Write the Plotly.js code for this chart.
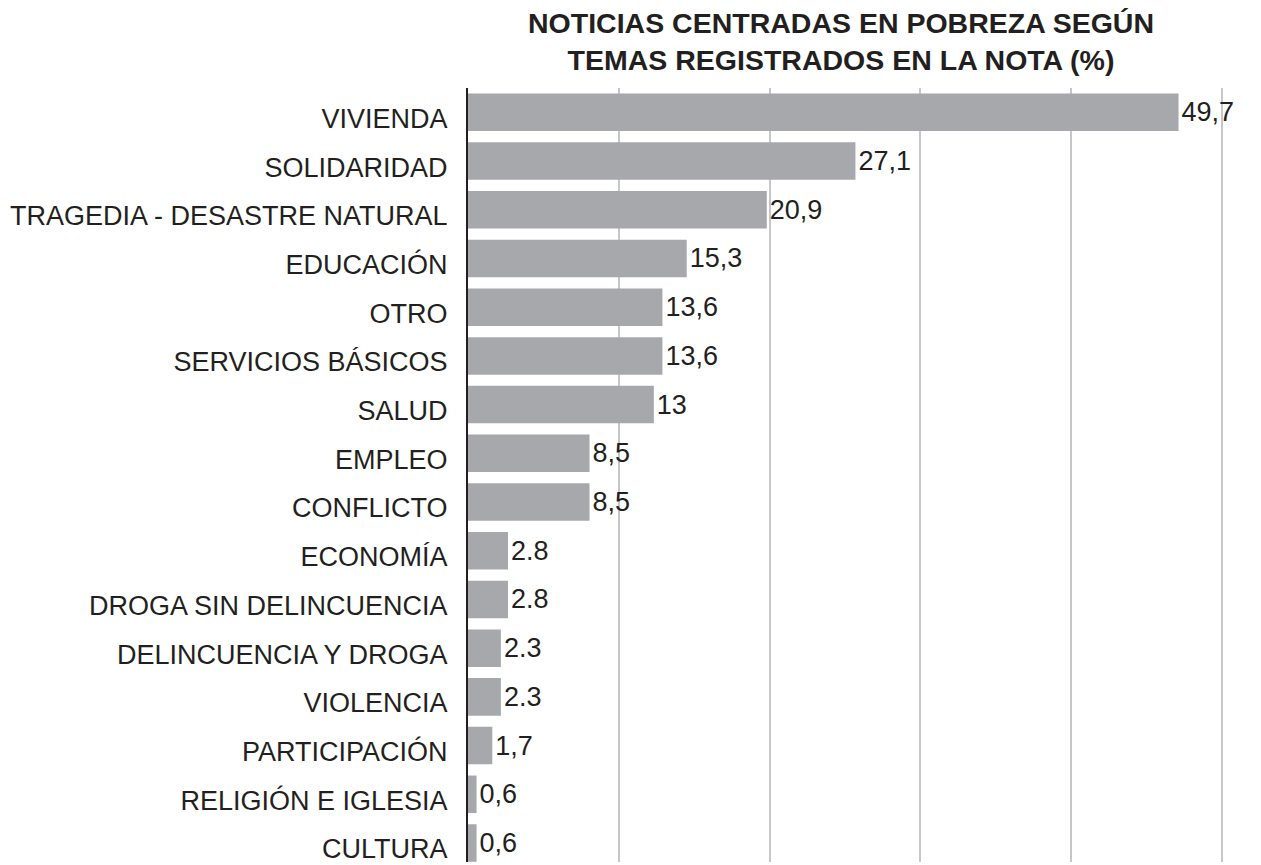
<!DOCTYPE html>
<html>
<head>
<meta charset="utf-8">
<script src="https://cdn.plot.ly/plotly-3.0.1.min.js"></script>
<style>html,body{margin:0;padding:0;background:#fff;}#chart{width:1261px;height:865px;}</style>
</head>
<body>
<div id="chart"></div>
<script>
const categories = ["VIVIENDA","SOLIDARIDAD","TRAGEDIA - DESASTRE NATURAL","EDUCACIÓN","OTRO","SERVICIOS BÁSICOS","SALUD","EMPLEO","CONFLICTO","ECONOMÍA","DROGA SIN DELINCUENCIA","DELINCUENCIA Y DROGA","VIOLENCIA","PARTICIPACIÓN","RELIGIÓN E IGLESIA","CULTURA"];
const values = [49.7,27.1,20.9,15.3,13.6,13.6,13,8.5,8.5,2.8,2.8,2.3,2.3,1.7,0.6,0.6];
const valueLabels = ["49,7","27,1","20,9","15,3","13,6","13,6","13","8,5","8,5","2.8","2.8","2.3","2.3","1,7","0,6","0,6"];
const titleLines = ["NOTICIAS CENTRADAS EN POBREZA SEGÚN","TEMAS REGISTRADOS EN LA NOTA (%)"];

const font = "Liberation Sans, Arial, sans-serif";
const trace = {
  type: "bar",
  orientation: "h",
  x: values,
  y: categories,
  text: valueLabels,
  texttemplate: "%{text}",
  textposition: "outside",
  cliponaxis: false,
  textfont: {family: font, size: 27, color: "#231f20"},
  marker: {color: "#a7a8ac"},
  hoverinfo: "skip"
};
const layout = {
  width: 1261, height: 865,
  margin: {l: 468, r: 21, t: 88, b: 3},
  paper_bgcolor: "#ffffff", plot_bgcolor: "#ffffff",
  bargap: 0.23,
  showlegend: false,
  title: {
    text: titleLines.join("<br>"),
    font: {family: font, size: 28.5, color: "#231f20", weight: "bold"},
    x: 841/1261, xanchor: "center", xref: "container",
    y: 0.962, yanchor: "top", yref: "container"
  },
  xaxis: {
    range: [0, 54.0], tick0: 0, dtick: 10.545,
    showgrid: true, gridcolor: "#c6c7cb", gridwidth: 2,
    zeroline: false, showticklabels: false, showline: false, ticks: ""
  },
  yaxis: {
    type: "category",
    categoryorder: "array", categoryarray: categories,
    range: [15.39, -0.5],
    showgrid: false, zeroline: false,
    showline: true, linecolor: "#231f20", linewidth: 2,
    ticks: "",
    ticklabelstandoff: 13,
    ticklabelshift: -6,
    tickfont: {family: font, size: 27, color: "#231f20"}
  }
};
Plotly.newPlot("chart", [trace], layout, {displayModeBar: false, staticPlot: true});
</script>
</body>
</html>
